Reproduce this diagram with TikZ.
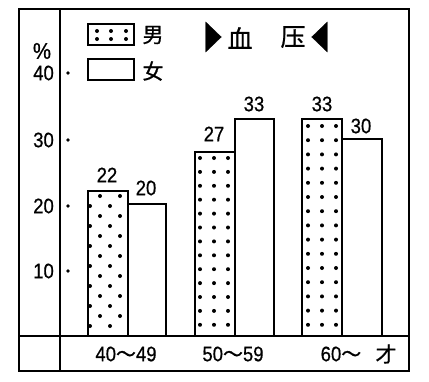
\documentclass[tikz,border=0pt]{standalone}
\usepackage{fontspec}
\setmainfont{Liberation Sans}
\newfontfamily\numfont[FakeStretch=0.88,FakeBold=0.6]{Liberation Sans}
\newfontfamily\cjk[FakeBold=0.8]{Noto Sans CJK SC}
\begin{document}
\begin{tikzpicture}[x=1pt,y=-1pt,
  frame/.style={line width=1.7pt},
  barbox/.style={line width=1.4pt, fill=white},
  num/.style={font=\numfont\fontsize{21}{21}\selectfont, inner sep=0pt},
  cjklab/.style={font=\cjk\fontsize{21}{21}\selectfont, inner sep=0pt},
  title/.style={font=\cjk\fontsize{25}{25}\selectfont, inner sep=0pt}]
\useasboundingbox (0,0) rectangle (429,381);
% frame
\draw[frame] (19,9) rectangle (409,371);
\draw[frame] (60,9) -- (60,371);
\draw[frame] (19,336) -- (409,336);
% axis
\node[num, font=\numfont\fontsize{23}{23}\selectfont] (pct) at (42,51) {\%};
\foreach \v/\y in {40/73,30/140,20/206,10/271}{
  \node[num, anchor=east] (t\v) at (54,\y) {\v};
  \fill (68,\y) circle (1.9);
}
% legend
\draw[barbox] (88,24) rectangle (134,45);
\foreach \x in {97,111,126}{\foreach \y in {31,39}{\fill (\x,\y) circle (2);}}
\draw[barbox] (88,59) rectangle (134,80);
\node[cjklab] (male) at (153,35) {男};
\node[cjklab] (female) at (153,71) {女};
% title
\node[title] (tl) at (213,37) {\fontsize{32}{32}\selectfont\scalebox{0.6}[1]{▶}};
\node[title] (xue) at (240,38) {血};
\node[title] (ya) at (293,37) {压};
\node[title] (tr) at (320,37) {\fontsize{32}{32}\selectfont\scalebox{0.6}[1]{◀}};
% group 1
\draw[barbox] (88,191) rectangle (128,336);
\begin{scope}
\clip (86,191) rectangle (128,336);
\foreach \k in {0,...,13}{
  \pgfmathsetmacro{\yy}{196+10*\k}
  \ifodd\k
    \fill (90,\yy) circle (2); \fill (110,\yy) circle (2);
  \else
    \fill (100,\yy) circle (2); \fill (120,\yy) circle (2);
  \fi
}
\end{scope}
\draw[barbox,fill=none] (88,191) rectangle (128,336);
\draw[barbox] (128,204) rectangle (166,336);
% group 2
\draw[barbox] (195,152) rectangle (235,336);
\foreach \k in {0,...,12}{\foreach \x in {200,214,228}{\fill (\x,158+13.9*\k) circle (2);}}
\draw[barbox] (235,119) rectangle (274,336);
% group 3
\draw[barbox] (302,119) rectangle (342,336);
\foreach \k in {0,...,14}{\foreach \x in {308,322,336}{\fill (\x,126+14.2*\k) circle (2);}}
\draw[barbox] (342,139) rectangle (382,336);
% value labels
\node[num] (v1) at (107,175) {22};
\node[num] (v2) at (146,188) {20};
\node[num] (v3) at (214,134) {27};
\node[num] (v4) at (254,104) {33};
\node[num] (v5) at (322,104) {33};
\node[num] (v6) at (361,126) {30};
% category labels
\node[num] (c1) at (126,354) {40{\cjk\fontsize{20}{20}\selectfont ～}49};
\node[num] (c2) at (233,354) {50{\cjk\fontsize{20}{20}\selectfont ～}59};
\node[num] (c3) at (341,354) {60{\cjk\fontsize{20}{20}\selectfont ～}};
\node[cjklab] (unit) at (386,354) {才};
\end{tikzpicture}
\end{document}
